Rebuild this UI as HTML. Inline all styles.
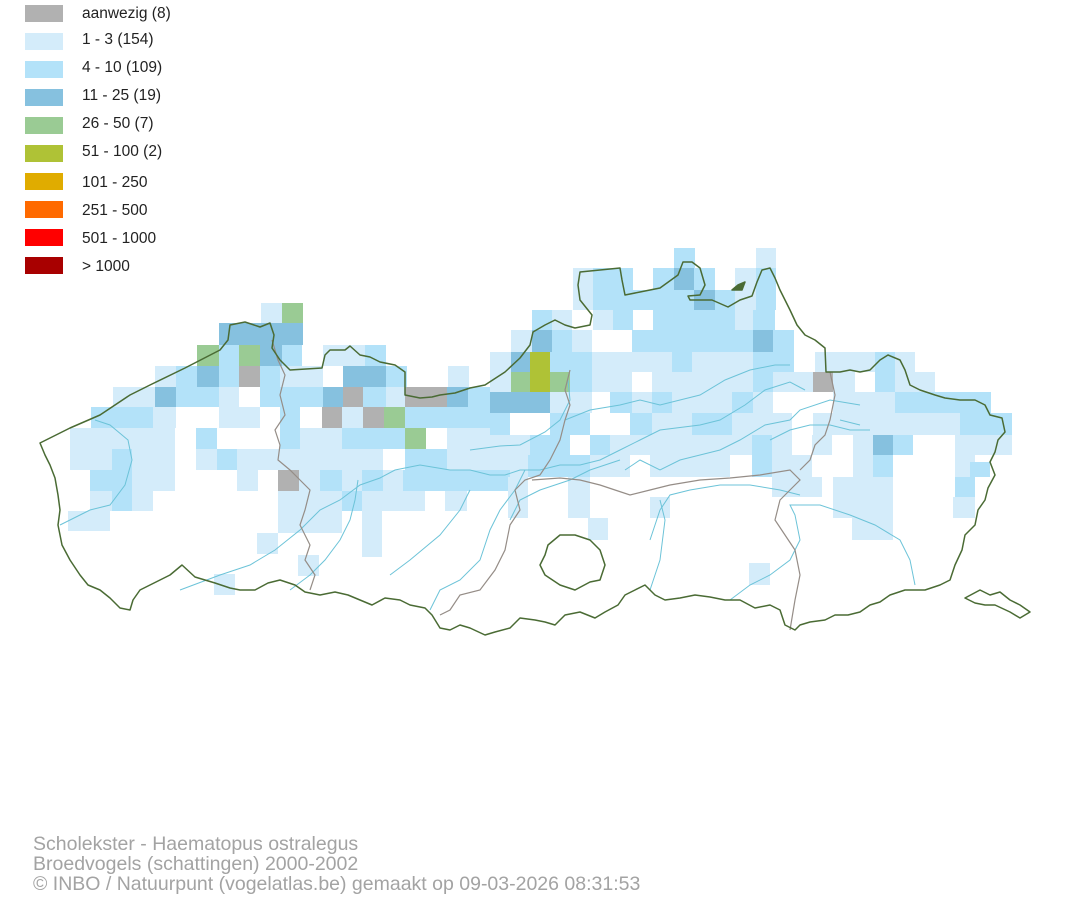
<!DOCTYPE html>
<html><head><meta charset="utf-8"><style>
html,body{margin:0;padding:0;background:#fff;width:1074px;height:900px;overflow:hidden}
svg{display:block}
text{font-family:"Liberation Sans",Arial,sans-serif}
</style></head><body>
<svg width="1074" height="900" viewBox="0 0 1074 900" xmlns="http://www.w3.org/2000/svg">
<g shape-rendering="crispEdges">
<rect x="25" y="5" width="38" height="17" fill="#b1b1b1"/>
<rect x="25" y="33" width="38" height="17" fill="#d4ecfa"/>
<rect x="25" y="61" width="38" height="17" fill="#b3e2f9"/>
<rect x="25" y="89" width="38" height="17" fill="#86c1df"/>
<rect x="25" y="117" width="38" height="17" fill="#9acb94"/>
<rect x="25" y="145" width="38" height="17" fill="#afc236"/>
<rect x="25" y="173" width="38" height="17" fill="#e0ac00"/>
<rect x="25" y="201" width="38" height="17" fill="#ff6a00"/>
<rect x="25" y="229" width="38" height="17" fill="#ff0000"/>
<rect x="25" y="257" width="38" height="17" fill="#a80000"/>
</g>
<g font-size="15.5" fill="#222">
<text x="82" y="18">aanwezig (8)</text>
<text x="82" y="44">1 - 3 (154)</text>
<text x="82" y="72">4 - 10 (109)</text>
<text x="82" y="100">11 - 25 (19)</text>
<text x="82" y="128">26 - 50 (7)</text>
<text x="82" y="156">51 - 100 (2)</text>
<text x="82" y="187">101 - 250</text>
<text x="82" y="215">251 - 500</text>
<text x="82" y="243">501 - 1000</text>
<text x="82" y="271">&gt; 1000</text>
</g>
<g shape-rendering="crispEdges">
<rect x="261" y="303" width="21" height="20" fill="#d4ecfa"/>
<rect x="282" y="303" width="21" height="20" fill="#9acb94"/>
<rect x="219" y="323" width="84" height="22" fill="#86c1df"/>
<rect x="197" y="345" width="22" height="21" fill="#9acb94"/>
<rect x="219" y="345" width="20" height="21" fill="#b3e2f9"/>
<rect x="239" y="345" width="21" height="21" fill="#9acb94"/>
<rect x="260" y="345" width="22" height="21" fill="#86c1df"/>
<rect x="282" y="345" width="20" height="21" fill="#b3e2f9"/>
<rect x="323" y="345" width="42" height="21" fill="#d4ecfa"/>
<rect x="365" y="345" width="21" height="21" fill="#b3e2f9"/>
<rect x="155" y="366" width="21" height="21" fill="#d4ecfa"/>
<rect x="176" y="366" width="21" height="21" fill="#b3e2f9"/>
<rect x="197" y="366" width="22" height="21" fill="#86c1df"/>
<rect x="219" y="366" width="20" height="21" fill="#b3e2f9"/>
<rect x="239" y="366" width="21" height="21" fill="#b1b1b1"/>
<rect x="260" y="366" width="20" height="21" fill="#b3e2f9"/>
<rect x="280" y="366" width="43" height="21" fill="#d4ecfa"/>
<rect x="343" y="366" width="43" height="21" fill="#86c1df"/>
<rect x="386" y="366" width="21" height="21" fill="#b3e2f9"/>
<rect x="448" y="366" width="21" height="21" fill="#d4ecfa"/>
<rect x="113" y="387" width="42" height="20" fill="#d4ecfa"/>
<rect x="155" y="387" width="21" height="20" fill="#86c1df"/>
<rect x="176" y="387" width="43" height="20" fill="#b3e2f9"/>
<rect x="219" y="387" width="20" height="20" fill="#d4ecfa"/>
<rect x="260" y="387" width="63" height="20" fill="#b3e2f9"/>
<rect x="323" y="387" width="20" height="20" fill="#86c1df"/>
<rect x="343" y="387" width="20" height="20" fill="#b1b1b1"/>
<rect x="363" y="387" width="23" height="20" fill="#b3e2f9"/>
<rect x="386" y="387" width="19" height="20" fill="#d4ecfa"/>
<rect x="405" y="387" width="42" height="20" fill="#b1b1b1"/>
<rect x="447" y="387" width="21" height="20" fill="#86c1df"/>
<rect x="468" y="387" width="42" height="20" fill="#b3e2f9"/>
<rect x="91" y="407" width="62" height="21" fill="#b3e2f9"/>
<rect x="153" y="407" width="23" height="21" fill="#d4ecfa"/>
<rect x="219" y="407" width="41" height="21" fill="#d4ecfa"/>
<rect x="280" y="407" width="20" height="21" fill="#b3e2f9"/>
<rect x="322" y="407" width="20" height="21" fill="#b1b1b1"/>
<rect x="342" y="407" width="21" height="21" fill="#d4ecfa"/>
<rect x="363" y="407" width="21" height="21" fill="#b1b1b1"/>
<rect x="384" y="407" width="21" height="21" fill="#9acb94"/>
<rect x="405" y="407" width="105" height="21" fill="#b3e2f9"/>
<rect x="70" y="428" width="105" height="21" fill="#d4ecfa"/>
<rect x="196" y="428" width="21" height="21" fill="#b3e2f9"/>
<rect x="280" y="428" width="20" height="21" fill="#b3e2f9"/>
<rect x="300" y="428" width="42" height="21" fill="#d4ecfa"/>
<rect x="342" y="428" width="63" height="21" fill="#b3e2f9"/>
<rect x="405" y="428" width="21" height="21" fill="#9acb94"/>
<rect x="447" y="428" width="63" height="21" fill="#d4ecfa"/>
<rect x="70" y="449" width="42" height="21" fill="#d4ecfa"/>
<rect x="112" y="449" width="20" height="21" fill="#b3e2f9"/>
<rect x="132" y="449" width="43" height="21" fill="#d4ecfa"/>
<rect x="196" y="449" width="21" height="21" fill="#d4ecfa"/>
<rect x="217" y="449" width="20" height="21" fill="#b3e2f9"/>
<rect x="237" y="449" width="146" height="21" fill="#d4ecfa"/>
<rect x="405" y="449" width="42" height="21" fill="#b3e2f9"/>
<rect x="447" y="449" width="63" height="21" fill="#d4ecfa"/>
<rect x="90" y="470" width="42" height="21" fill="#b3e2f9"/>
<rect x="132" y="470" width="43" height="21" fill="#d4ecfa"/>
<rect x="237" y="470" width="21" height="21" fill="#d4ecfa"/>
<rect x="278" y="470" width="21" height="21" fill="#b1b1b1"/>
<rect x="299" y="470" width="21" height="21" fill="#d4ecfa"/>
<rect x="320" y="470" width="22" height="21" fill="#b3e2f9"/>
<rect x="342" y="470" width="20" height="21" fill="#d4ecfa"/>
<rect x="362" y="470" width="21" height="21" fill="#b3e2f9"/>
<rect x="383" y="470" width="20" height="21" fill="#d4ecfa"/>
<rect x="403" y="470" width="107" height="21" fill="#b3e2f9"/>
<rect x="90" y="491" width="22" height="20" fill="#d4ecfa"/>
<rect x="112" y="491" width="20" height="20" fill="#b3e2f9"/>
<rect x="132" y="491" width="21" height="20" fill="#d4ecfa"/>
<rect x="278" y="491" width="64" height="20" fill="#d4ecfa"/>
<rect x="342" y="491" width="20" height="20" fill="#b3e2f9"/>
<rect x="362" y="491" width="63" height="20" fill="#d4ecfa"/>
<rect x="445" y="491" width="22" height="20" fill="#d4ecfa"/>
<rect x="68" y="511" width="42" height="20" fill="#d4ecfa"/>
<rect x="278" y="511" width="64" height="22" fill="#d4ecfa"/>
<rect x="362" y="511" width="20" height="46" fill="#d4ecfa"/>
<rect x="257" y="533" width="21" height="21" fill="#d4ecfa"/>
<rect x="298" y="555" width="21" height="21" fill="#d4ecfa"/>
<rect x="214" y="574" width="21" height="21" fill="#d4ecfa"/>
<rect x="674" y="248" width="21" height="20" fill="#b3e2f9"/>
<rect x="756" y="248" width="20" height="20" fill="#d4ecfa"/>
<rect x="573" y="268" width="20" height="22" fill="#d4ecfa"/>
<rect x="593" y="268" width="40" height="22" fill="#b3e2f9"/>
<rect x="653" y="268" width="21" height="22" fill="#b3e2f9"/>
<rect x="674" y="268" width="20" height="22" fill="#86c1df"/>
<rect x="694" y="268" width="21" height="22" fill="#b3e2f9"/>
<rect x="735" y="268" width="21" height="22" fill="#d4ecfa"/>
<rect x="756" y="268" width="20" height="22" fill="#b3e2f9"/>
<rect x="573" y="290" width="20" height="20" fill="#d4ecfa"/>
<rect x="593" y="290" width="101" height="20" fill="#b3e2f9"/>
<rect x="694" y="290" width="21" height="20" fill="#86c1df"/>
<rect x="715" y="290" width="20" height="20" fill="#b3e2f9"/>
<rect x="735" y="290" width="21" height="20" fill="#d4ecfa"/>
<rect x="756" y="290" width="20" height="20" fill="#b3e2f9"/>
<rect x="532" y="310" width="20" height="20" fill="#b3e2f9"/>
<rect x="552" y="310" width="20" height="20" fill="#d4ecfa"/>
<rect x="593" y="310" width="20" height="20" fill="#d4ecfa"/>
<rect x="613" y="310" width="20" height="20" fill="#b3e2f9"/>
<rect x="653" y="310" width="82" height="20" fill="#b3e2f9"/>
<rect x="735" y="310" width="18" height="20" fill="#d4ecfa"/>
<rect x="753" y="310" width="22" height="20" fill="#b3e2f9"/>
<rect x="511" y="330" width="21" height="22" fill="#d4ecfa"/>
<rect x="532" y="330" width="20" height="22" fill="#86c1df"/>
<rect x="552" y="330" width="20" height="22" fill="#b3e2f9"/>
<rect x="572" y="330" width="20" height="22" fill="#d4ecfa"/>
<rect x="632" y="330" width="121" height="22" fill="#b3e2f9"/>
<rect x="753" y="330" width="20" height="22" fill="#86c1df"/>
<rect x="773" y="330" width="21" height="22" fill="#b3e2f9"/>
<rect x="490" y="352" width="21" height="20" fill="#d4ecfa"/>
<rect x="511" y="352" width="19" height="20" fill="#86c1df"/>
<rect x="530" y="352" width="20" height="40" fill="#afc236"/>
<rect x="550" y="352" width="42" height="20" fill="#b3e2f9"/>
<rect x="592" y="352" width="80" height="20" fill="#d4ecfa"/>
<rect x="672" y="352" width="20" height="20" fill="#b3e2f9"/>
<rect x="692" y="352" width="61" height="20" fill="#d4ecfa"/>
<rect x="753" y="352" width="41" height="20" fill="#b3e2f9"/>
<rect x="815" y="352" width="60" height="20" fill="#d4ecfa"/>
<rect x="875" y="352" width="20" height="20" fill="#b3e2f9"/>
<rect x="895" y="352" width="20" height="20" fill="#d4ecfa"/>
<rect x="490" y="372" width="21" height="20" fill="#d4ecfa"/>
<rect x="511" y="372" width="19" height="20" fill="#9acb94"/>
<rect x="550" y="372" width="20" height="20" fill="#9acb94"/>
<rect x="570" y="372" width="22" height="20" fill="#b3e2f9"/>
<rect x="592" y="372" width="40" height="20" fill="#d4ecfa"/>
<rect x="652" y="372" width="101" height="20" fill="#d4ecfa"/>
<rect x="753" y="372" width="20" height="20" fill="#b3e2f9"/>
<rect x="773" y="372" width="40" height="20" fill="#d4ecfa"/>
<rect x="813" y="372" width="20" height="20" fill="#b1b1b1"/>
<rect x="833" y="372" width="22" height="20" fill="#d4ecfa"/>
<rect x="875" y="372" width="20" height="20" fill="#b3e2f9"/>
<rect x="895" y="372" width="40" height="20" fill="#d4ecfa"/>
<rect x="490" y="392" width="60" height="21" fill="#86c1df"/>
<rect x="550" y="392" width="42" height="21" fill="#d4ecfa"/>
<rect x="610" y="392" width="22" height="21" fill="#b3e2f9"/>
<rect x="632" y="392" width="20" height="21" fill="#d4ecfa"/>
<rect x="652" y="392" width="20" height="21" fill="#b3e2f9"/>
<rect x="672" y="392" width="60" height="21" fill="#d4ecfa"/>
<rect x="732" y="392" width="21" height="21" fill="#b3e2f9"/>
<rect x="753" y="392" width="20" height="21" fill="#d4ecfa"/>
<rect x="833" y="392" width="62" height="21" fill="#d4ecfa"/>
<rect x="895" y="392" width="80" height="21" fill="#b3e2f9"/>
<rect x="975" y="392" width="16" height="21" fill="#b3e2f9"/>
<rect x="490" y="413" width="20" height="22" fill="#b3e2f9"/>
<rect x="550" y="413" width="40" height="22" fill="#b3e2f9"/>
<rect x="630" y="413" width="22" height="22" fill="#b3e2f9"/>
<rect x="652" y="413" width="40" height="22" fill="#d4ecfa"/>
<rect x="692" y="413" width="40" height="22" fill="#b3e2f9"/>
<rect x="732" y="413" width="60" height="22" fill="#d4ecfa"/>
<rect x="813" y="413" width="40" height="22" fill="#d4ecfa"/>
<rect x="853" y="413" width="82" height="22" fill="#d4ecfa"/>
<rect x="935" y="413" width="25" height="22" fill="#d4ecfa"/>
<rect x="960" y="413" width="52" height="22" fill="#b3e2f9"/>
<rect x="469" y="435" width="21" height="20" fill="#d4ecfa"/>
<rect x="490" y="435" width="40" height="20" fill="#d4ecfa"/>
<rect x="530" y="435" width="40" height="20" fill="#b3e2f9"/>
<rect x="590" y="435" width="20" height="20" fill="#b3e2f9"/>
<rect x="610" y="435" width="142" height="20" fill="#d4ecfa"/>
<rect x="752" y="435" width="20" height="20" fill="#b3e2f9"/>
<rect x="772" y="435" width="20" height="20" fill="#d4ecfa"/>
<rect x="812" y="435" width="20" height="20" fill="#d4ecfa"/>
<rect x="853" y="435" width="20" height="20" fill="#d4ecfa"/>
<rect x="873" y="435" width="20" height="20" fill="#86c1df"/>
<rect x="893" y="435" width="20" height="20" fill="#b3e2f9"/>
<rect x="955" y="435" width="57" height="20" fill="#d4ecfa"/>
<rect x="510" y="455" width="18" height="22" fill="#d4ecfa"/>
<rect x="528" y="455" width="62" height="22" fill="#b3e2f9"/>
<rect x="590" y="455" width="40" height="22" fill="#d4ecfa"/>
<rect x="650" y="455" width="80" height="22" fill="#d4ecfa"/>
<rect x="752" y="455" width="20" height="22" fill="#b3e2f9"/>
<rect x="772" y="455" width="40" height="22" fill="#d4ecfa"/>
<rect x="853" y="455" width="20" height="22" fill="#d4ecfa"/>
<rect x="873" y="455" width="20" height="22" fill="#b3e2f9"/>
<rect x="955" y="455" width="20" height="22" fill="#d4ecfa"/>
<rect x="970" y="462" width="20" height="15" fill="#b3e2f9"/>
<rect x="508" y="477" width="20" height="20" fill="#d4ecfa"/>
<rect x="568" y="477" width="22" height="20" fill="#d4ecfa"/>
<rect x="772" y="477" width="50" height="20" fill="#d4ecfa"/>
<rect x="833" y="477" width="60" height="20" fill="#d4ecfa"/>
<rect x="955" y="477" width="20" height="20" fill="#b3e2f9"/>
<rect x="508" y="497" width="20" height="21" fill="#d4ecfa"/>
<rect x="568" y="497" width="22" height="21" fill="#d4ecfa"/>
<rect x="650" y="497" width="20" height="21" fill="#d4ecfa"/>
<rect x="833" y="497" width="60" height="21" fill="#d4ecfa"/>
<rect x="953" y="497" width="22" height="21" fill="#d4ecfa"/>
<rect x="588" y="518" width="20" height="22" fill="#d4ecfa"/>
<rect x="852" y="518" width="41" height="22" fill="#d4ecfa"/>
<rect x="749" y="563" width="21" height="22" fill="#d4ecfa"/>
</g>
<g fill="none" stroke="#6cc3d8" stroke-width="1">
<path d="M60,525 L90,510 L110,505 L125,485 L132,460 L128,440 L110,425 L95,420"/>
<path d="M180,590 L220,575 L250,565 L275,550 L300,530 L320,510 L340,500 L360,485 L380,478 L395,470 L420,465 L450,470 L470,470 L490,475 L505,475 L520,470 L540,470 L560,465 L580,465 L600,460 L620,450 L640,440 L660,430 L700,425 L720,420 L745,405 L765,390 L790,382 L805,390"/>
<path d="M470,450 L500,446 L520,445 L545,432 L560,420 L570,400 L568,380"/>
<path d="M290,590 L310,575 L325,560 L340,540 L350,520 L355,500 L358,480"/>
<path d="M390,575 L410,560 L440,535 L460,510 L470,490"/>
<path d="M430,610 L440,590 L460,580 L480,560 L490,530 L500,510 L515,490 L525,470"/>
<path d="M565,420 L590,410 L620,405 L640,400 L660,405 L680,400 L700,395 L725,380 L750,370 L775,365 L790,365"/>
<path d="M625,470 L640,460 L660,470 L680,460 L700,455 L720,450 L740,440 L765,425 L790,420 L800,410 L830,400 L860,405"/>
<path d="M510,520 L520,500 L540,490 L570,480 L590,470 L620,460"/>
<path d="M650,540 L660,510 L670,495 L690,490 L720,485 L750,485 L780,490 L800,495"/>
<path d="M650,590 L660,560 L665,520 L660,500"/>
<path d="M730,600 L750,585 L770,575 L790,560 L800,540 L795,515 L790,505 L820,505 L850,515 L875,525 L900,540 L910,560 L915,585"/>
<path d="M770,440 L790,430 L810,425 L830,425 L850,430 L870,430"/>
<path d="M840,420 L860,425"/>
</g>
<g fill="none" stroke="#958d87" stroke-width="1.2">
<path d="M272,340 L278,360 L285,375 L280,395 L285,415 L275,430 L280,445 L278,460 L290,470 L300,480 L310,490 L305,510 L300,525 L310,545 L305,560 L315,575 L310,590"/>
<path d="M570,370 L565,390 L570,405 L565,420 L560,440 L550,460 L540,475 L525,480 L515,490 L520,510 L510,525 L505,550 L495,570 L480,590 L460,595 L450,610 L440,615"/>
<path d="M532,480 L560,478 L580,480 L600,485 L615,490 L630,495 L650,490 L670,485 L700,480 L730,478 L760,475 L790,470 L800,480 L790,490 L780,500 L775,520 L785,535 L795,550 L800,575 L795,600 L790,630"/>
<path d="M830,372 L835,395 L830,420 L825,435 L815,445 L810,460 L800,470"/>
</g>
<g fill="none" stroke="#4a6b34" stroke-width="1.5" stroke-linejoin="round">
<path d="M40,443 L70,428 L100,415 L130,395 L150,385 L185,368 L220,350 L228,340 L230,325 L245,322 L260,327 L270,323 L274,335 L272,348 L280,360 L290,370 L322,368 L325,355 L330,350 L345,350 L350,346 L360,355 L370,357 L380,362 L395,365 L405,372 L405,395 L420,398 L432,397 L440,395 L455,393 L470,388 L485,385 L505,372 L520,358 L530,345 L533,332 L545,325 L555,320 L565,325 L575,328 L590,325 L592,315 L580,300 L578,285 L580,272 L600,270 L620,268 L622,280 L625,295 L640,292 L660,288 L678,275 L683,262 L692,262 L700,268 L705,285 L700,295 L688,296 L690,300 L712,300 L728,307 L740,300 L752,296 L757,282 L762,270 L770,268 L775,278 L780,290 L790,310 L797,325 L805,335 L815,340 L825,348 L826,372 L840,372 L850,370 L860,372 L870,370 L880,360 L888,355 L900,360 L905,370 L910,385 L920,390 L935,395 L945,398 L960,400 L975,400 L985,405 L990,415 L1002,418 L1005,432 L998,440 L995,452 L990,462 L995,475 L988,488 L985,500 L978,510 L975,525 L965,535 L962,550 L955,565 L950,580 L940,585 L925,590 L905,590 L890,595 L880,602 L870,605 L860,612 L848,615 L835,615 L825,620 L810,622 L800,625 L795,630 L785,625 L780,610 L770,605 L755,608 L740,600 L725,600 L710,597 L695,595 L680,598 L665,600 L655,595 L645,585 L635,590 L625,595 L618,605 L605,612 L595,618 L580,612 L565,615 L555,625 L545,622 L535,620 L520,618 L510,628 L495,632 L485,635 L470,628 L460,625 L450,630 L440,628 L432,615 L425,608 L410,605 L400,600 L385,598 L372,605 L360,600 L348,595 L335,592 L320,595 L305,592 L295,585 L280,580 L268,583 L255,590 L240,590 L230,588 L215,583 L205,580 L195,577 L182,565 L170,575 L160,580 L150,585 L140,590 L133,600 L130,610 L120,608 L110,598 L100,590 L88,585 L80,575 L70,560 L62,545 L58,525 L60,510 L58,495 L55,478 L50,465 L45,455 Z"/>
<path d="M965,598 L980,590 L990,595 L1000,592 L1010,600 L1020,605 L1030,612 L1020,618 L1010,612 L995,605 L985,605 L975,603 Z"/>
<path d="M548,545 L560,535 L575,535 L590,540 L600,550 L605,565 L600,580 L590,582 L575,590 L560,585 L545,575 L540,565 L545,555 Z"/>
<path d="M732,290 L738,285 L745,282 L742,290 Z" fill="#4a6b34"/>
</g>
<g font-size="19.5" fill="#a3a3a3">
<text x="33" y="850">Scholekster - Haematopus ostralegus</text>
<text x="33" y="870">Broedvogels (schattingen) 2000-2002</text>
<text x="33" y="890">© INBO / Natuurpunt (vogelatlas.be) gemaakt op 09-03-2026 08:31:53</text>
</g>
</svg>
</body></html>
